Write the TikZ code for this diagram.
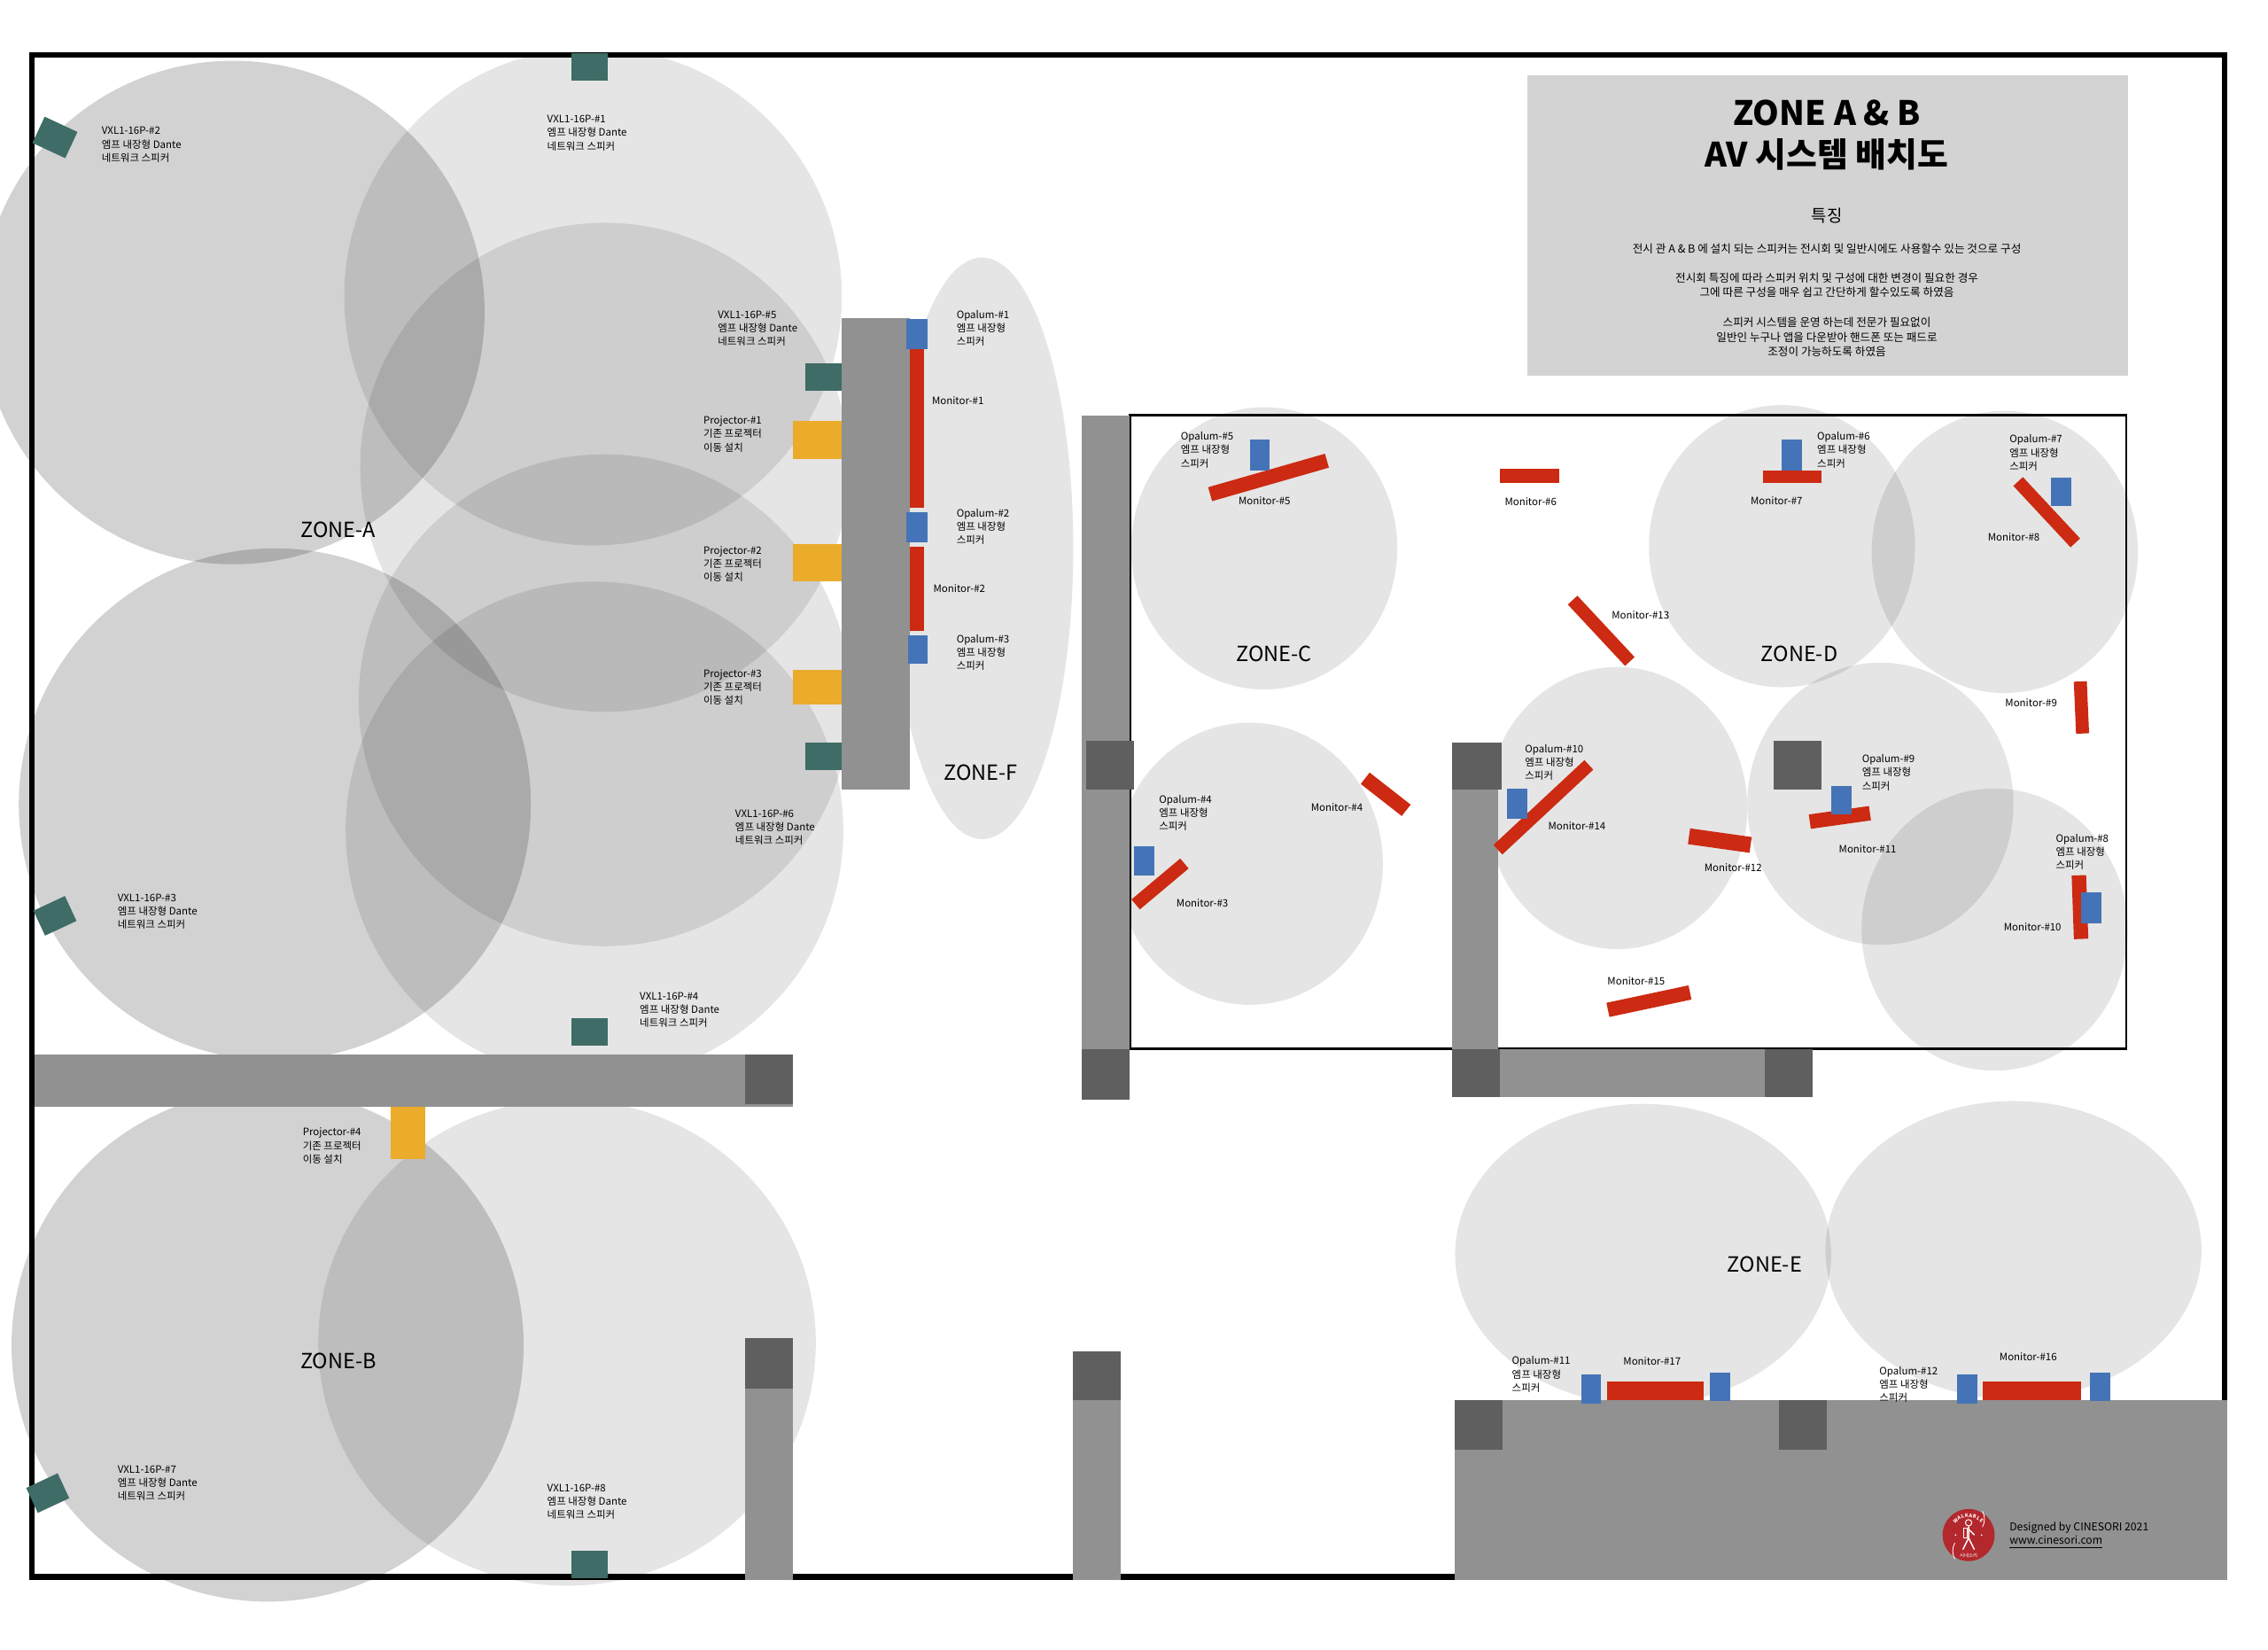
\documentclass[tikz,border=0pt]{standalone}
\usepackage{fontspec}
\setmainfont{Noto Sans CJK KR}
\usetikzlibrary{positioning}

\definecolor{wallgray}{HTML}{919191}
\definecolor{walldark}{HTML}{5F5F5F}
\definecolor{dantegreen}{HTML}{3F6C66}
\definecolor{projyellow}{HTML}{EBAB2B}
\definecolor{opalblue}{HTML}{4474B7}
\definecolor{monred}{HTML}{CC2A12}
\definecolor{logored}{HTML}{B3282D}
\definecolor{titlegray}{HTML}{D3D3D3}

\begin{document}
\begin{tikzpicture}[
    x=0.2mm, y=-0.2mm,
    sz/.style 2 args={minimum width=#1*0.2mm, minimum height=#2*0.2mm},
    box/.style={inner sep=0pt, outer sep=0pt},
    danteamp/.style={box, fill=dantegreen},
    projector/.style={box, fill=projyellow},
    opalum/.style={box, fill=opalblue, sz={14}{20}},
    monitor/.style={box, fill=monred},
    lightzone/.style={fill=black, opacity=0.1},
    darkzone/.style={fill=black, opacity=0.175},
    wall/.style={fill=wallgray},
    pillar/.style={fill=walldark},
    lbl/.style={anchor=west, inner sep=0pt, align=left, font=\fontsize{4}{5.3}\selectfont},
    zonelbl/.style={inner sep=0pt, font=\fontsize{8.2}{10}\selectfont},
    bodylbl/.style={inner sep=0pt, align=center, font=\fontsize{4.4}{5.7}\selectfont}
    ]
    \useasboundingbox (0,0) rectangle (1568,1140);

    %Room line
    \draw[line width=0.35mm] (781,287) rectangle (1470,725);

    %Zones
    \fill[darkzone] (161,216) circle (174);
    \fill[lightzone] (410,205) circle (172);
    \fill[lightzone] (418,323) circle (169);
    \fill[lightzone] (418,484) circle (170);
    \fill[lightzone] (411,574) circle (172);
    \fill[darkzone] (190,556) circle (177);
    \fill[darkzone] (185,930) circle (177);
    \fill[lightzone] (392,928) ellipse [x radius=172, y radius=168];
    \fill[lightzone] (679,379) ellipse [x radius=63, y radius=201];
    \fill[lightzone] (874,379) ellipse [x radius=92, y radius=97.5];
    \fill[lightzone] (864,597) ellipse [x radius=92, y radius=97.5];
    \fill[lightzone] (1232,377.5) ellipse [x radius=92, y radius=97.5];
    \fill[lightzone] (1386,381.5) ellipse [x radius=92, y radius=97.5];
    \fill[lightzone] (1118,558.5) ellipse [x radius=90, y radius=97.5];
    \fill[lightzone] (1300,555.5) ellipse [x radius=92, y radius=97.5];
    \fill[lightzone] (1379,642.5) ellipse [x radius=92, y radius=97.5];
    \fill[lightzone] (1136,867) ellipse [x radius=130, y radius=104];
    \fill[lightzone] (1392,864) ellipse [x radius=130, y radius=103];

    %Frame
    \fill[white] (300,0) rectangle (700,37);
    \draw[line width=0.8mm] (22,38) rectangle (1538,1090);

    %Walls
    \fill[wall] (582,220) rectangle (629,546);
    \fill[wall] (748,287) rectangle (781,725);
    \fill[pillar] (751,512) rectangle (784,546);
    \fill[pillar] (748,725) rectangle (781,760);
    \fill[wall] (1004,546) rectangle (1036,725);
    \fill[pillar] (1004,513) rectangle (1038,546);
    \fill[pillar] (1004,725) rectangle (1037,758);
    \fill[wall] (1037,725) rectangle (1220,758);
    \fill[pillar] (1220,725) rectangle (1253,758);
    \fill[pillar] (1226,512) rectangle (1259,546);
    \fill[wall] (24,729) rectangle (548,765);
    \fill[pillar] (515,729) rectangle (548,763);
    \fill[wall] (515,960) rectangle (548,1092);
    \fill[pillar] (515,925) rectangle (548,960);
    \fill[wall] (742,968) rectangle (775,1092);
    \fill[pillar] (742,934) rectangle (775,968);
    \fill[wall] (1006,968) rectangle (1540,1092);
    \fill[pillar] (1006,968) rectangle (1039,1002);
    \fill[pillar] (1230,968) rectangle (1263,1002);

    %Title box
    \node[box, fill=titlegray, sz={415}{208}] (title) at (1263.5,156) {};
    \node[inner sep=0pt, font=\fontsize{13.2}{16}\selectfont\bfseries] (title1) at (1263,78) {ZONE A \& B};
    \node[inner sep=0pt, font=\fontsize{13.2}{16}\selectfont\bfseries] (title2) at (1263,107) {AV 시스템 배치도};
    \node[inner sep=0pt, font=\fontsize{6.6}{8}\selectfont] (feature) at (1263,149) {특징};
    \node[bodylbl] (body1) at (1263,172) {전시 관 A \& B 에 설치 되는 스피커는 전시회 및 일반시에도 사용할수 있는 것으로 구성};
    \node[bodylbl] (body2) at (1263,197) {전시회 특징에 따라 스피커 위치 및 구성에 대한 변경이 필요한 경우\\그에 따른 구성을 매우 쉽고 간단하게 할수있도록 하였음};
    \node[bodylbl] (body3) at (1263,233) {스피커 시스템을 운영 하는데 전문가 필요없이\\일반인 누구나 앱을 다운받아 핸드폰 또는 패드로\\조정이 가능하도록 하였음};

    %Dante speakers
    \node[danteamp, sz={25}{19}] (vxl1) at (407.5,46.5) {};
    \node[danteamp, sz={25}{20}, rotate=-25] (vxl2) at (38,95) {};
    \node[danteamp, sz={24}{19}, rotate=25] (vxl3) at (38,633) {};
    \node[danteamp, sz={25}{19}] (vxl4) at (407.5,713.5) {};
    \node[danteamp, sz={25}{19}] (vxl5) at (569.5,260.5) {};
    \node[danteamp, sz={25}{19}] (vxl6) at (569.5,522.5) {};
    \node[danteamp, sz={24}{19}, rotate=25] (vxl7) at (33,1032) {};
    \node[danteamp, sz={25}{19}] (vxl8) at (407.5,1081.5) {};

    %Projectors
    \node[projector, sz={34}{26}] (proj1) at (565,304) {};
    \node[projector, sz={34}{26}] (proj2) at (565,389) {};
    \node[projector, sz={34}{24}] (proj3) at (565,475) {};
    \node[projector, sz={24}{36}] (proj4) at (282,783) {};

    %Monitors
    \node[opalum] (opal7) at (1425,340) {};
    \node[monitor, sz={10}{110}] (mon1) at (634,296) {};
    \node[monitor, sz={10}{58}] (mon2) at (634,407) {};
    \node[monitor, sz={44}{9}, rotate=40] (mon3) at (802,611) {};
    \node[monitor, sz={36}{10}, rotate=-38] (mon4) at (958,549) {};
    \node[monitor, sz={84}{10}, rotate=16] (mon5) at (877,330) {};
    \node[monitor, sz={41}{10}] (mon6) at (1057.5,329) {};
    \node[monitor, sz={40}{9}] (mon7) at (1239,329.5) {};
    \node[monitor, sz={58}{9}, rotate=-47] (mon8) at (1415,354) {};
    \node[monitor, sz={9}{36}, rotate=2.5] (mon9) at (1439,489) {};
    \node[monitor, sz={10}{44}, rotate=2] (mon10) at (1438,627) {};
    \node[monitor, sz={42}{10}, rotate=8] (mon11) at (1272,565) {};
    \node[monitor, sz={43}{11}, rotate=-8] (mon12) at (1189,581) {};
    \node[monitor, sz={58}{9}, rotate=-47] (mon13) at (1107,436) {};
    \node[monitor, sz={86}{9}, rotate=43] (mon14) at (1067,558) {};
    \node[monitor, sz={58}{10}, rotate=12] (mon15) at (1140,692) {};
    \node[monitor, sz={68}{13}] (mon16) at (1405,961.5) {};
    \node[monitor, sz={67}{13}] (mon17) at (1144.5,961.5) {};

    %Opalum speakers
    \node[opalum, sz={15}{21}] (opal1) at (634,231) {};
    \node[opalum, sz={15}{21}] (opal2) at (634,364.5) {};
    \node[opalum] (opal3) at (634.5,449) {};
    \node[opalum] (opal4) at (791,595) {};
    \node[opalum, sz={14}{21}] (opal5) at (871,314.5) {};
    \node[opalum, sz={14}{21}] (opal6) at (1239,314.5) {};
    \node[opalum, sz={14}{21}] (opal8) at (1446,627.5) {};
    \node[opalum] (opal9) at (1273,553) {};
    \node[opalum, sz={14}{21}] (opal10) at (1049,555.5) {};
    \node[opalum] (opal11) at (1100,960) {};
    \node[opalum] (opal11b) at (1189,958.5) {};
    \node[opalum] (opal12) at (1360,960) {};
    \node[opalum] (opal12b) at (1452,958.5) {};

    %Zone names
    \node[zonelbl] (zonea) at (234,366) {ZONE-A};
    \node[zonelbl] (zoneb) at (234,941) {ZONE-B};
    \node[zonelbl] (zonec) at (881,452) {ZONE-C};
    \node[zonelbl] (zoned) at (1244,452) {ZONE-D};
    \node[zonelbl] (zonee) at (1220,874) {ZONE-E};
    \node[zonelbl] (zonef) at (678,534) {ZONE-F};

    %Labels
    \node[lbl] (vxl1txt) at (378,92) {VXL1-16P-\#1\\엠프 내장형 Dante\\네트워크 스피커};
    \node[lbl] (vxl2txt) at (70,100) {VXL1-16P-\#2\\엠프 내장형 Dante\\네트워크 스피커};
    \node[lbl] (vxl3txt) at (81,630) {VXL1-16P-\#3\\엠프 내장형 Dante\\네트워크 스피커};
    \node[lbl] (vxl4txt) at (442,698) {VXL1-16P-\#4\\엠프 내장형 Dante\\네트워크 스피커};
    \node[lbl] (vxl5txt) at (496,227) {VXL1-16P-\#5\\엠프 내장형 Dante\\네트워크 스피커};
    \node[lbl] (vxl6txt) at (508,572) {VXL1-16P-\#6\\엠프 내장형 Dante\\네트워크 스피커};
    \node[lbl] (vxl7txt) at (81,1025) {VXL1-16P-\#7\\엠프 내장형 Dante\\네트워크 스피커};
    \node[lbl] (vxl8txt) at (378,1038) {VXL1-16P-\#8\\엠프 내장형 Dante\\네트워크 스피커};
    \node[lbl] (proj1txt) at (486,300) {Projector-\#1\\기존 프로젝터\\이동 설치};
    \node[lbl] (proj2txt) at (486,390) {Projector-\#2\\기존 프로젝터\\이동 설치};
    \node[lbl] (proj3txt) at (486,475) {Projector-\#3\\기존 프로젝터\\이동 설치};
    \node[lbl] (proj4txt) at (209,792) {Projector-\#4\\기존 프로젝터\\이동 설치};
    \node[lbl] (opal1txt) at (661,227) {Opalum-\#1\\엠프 내장형\\스피커};
    \node[lbl] (opal2txt) at (661,364) {Opalum-\#2\\엠프 내장형\\스피커};
    \node[lbl] (opal3txt) at (661,451) {Opalum-\#3\\엠프 내장형\\스피커};
    \node[lbl] (opal4txt) at (801,562) {Opalum-\#4\\엠프 내장형\\스피커};
    \node[lbl] (opal5txt) at (816,311) {Opalum-\#5\\엠프 내장형\\스피커};
    \node[lbl] (opal6txt) at (1256,311) {Opalum-\#6\\엠프 내장형\\스피커};
    \node[lbl] (opal7txt) at (1389,313) {Opalum-\#7\\엠프 내장형\\스피커};
    \node[lbl] (opal8txt) at (1421,589) {Opalum-\#8\\엠프 내장형\\스피커};
    \node[lbl] (opal9txt) at (1287,534) {Opalum-\#9\\엠프 내장형\\스피커};
    \node[lbl] (opal10txt) at (1054,527) {Opalum-\#10\\엠프 내장형\\스피커};
    \node[lbl] (opal11txt) at (1045,950) {Opalum-\#11\\엠프 내장형\\스피커};
    \node[lbl] (opal12txt) at (1299,957) {Opalum-\#12\\엠프 내장형\\스피커};
    \node[lbl] (mon1txt) at (644,277) {Monitor-\#1};
    \node[lbl] (mon2txt) at (645,407) {Monitor-\#2};
    \node[lbl] (mon3txt) at (813,624) {Monitor-\#3};
    \node[lbl] (mon4txt) at (906,558) {Monitor-\#4};
    \node[lbl] (mon5txt) at (856,346) {Monitor-\#5};
    \node[lbl] (mon6txt) at (1040,347) {Monitor-\#6};
    \node[lbl] (mon7txt) at (1210,346) {Monitor-\#7};
    \node[lbl] (mon8txt) at (1374,371) {Monitor-\#8};
    \node[lbl] (mon9txt) at (1386,486) {Monitor-\#9};
    \node[lbl] (mon10txt) at (1385,641) {Monitor-\#10};
    \node[lbl] (mon11txt) at (1271,587) {Monitor-\#11};
    \node[lbl] (mon12txt) at (1178,600) {Monitor-\#12};
    \node[lbl] (mon13txt) at (1114,425) {Monitor-\#13};
    \node[lbl] (mon14txt) at (1070,571) {Monitor-\#14};
    \node[lbl] (mon15txt) at (1111,678) {Monitor-\#15};
    \node[lbl] (mon16txt) at (1382,938) {Monitor-\#16};
    \node[lbl] (mon17txt) at (1122,941) {Monitor-\#17};

    %Logo
    \node[circle, fill=logored, inner sep=0pt, sz={36}{36}] (logo) at (1361,1061) {};
    \draw[white, line width=0.1mm] ([shift={(150:11)}]logo.center) arc [start angle=150, end angle=210, radius=11*0.2mm];
    \draw[white, line width=0.1mm] ([shift={(-30:11)}]logo.center) arc [start angle=-30, end angle=30, radius=11*0.2mm];
    \fill[white] (1352,1061) circle (0.6);
    \fill[white] (1370,1061) circle (0.6);
    \draw[white, line width=0.12mm] (1361,1052.5) circle (2.2);
    \draw[white, line width=0.12mm] (1357.5,1056) rectangle (1360,1063);
    \draw[white, line width=0.18mm] (1361,1055) -- (1361,1063) -- (1357,1071);
    \draw[white, line width=0.18mm] (1361,1063) -- (1365,1071);
    \draw[white, line width=0.18mm] (1361,1057) -- (1365,1061);
    \foreach \c/\a in {W/-42,A/-30,L/-18,K/-6,A/6,B/18,L/30,E/42}
        \node[white, inner sep=0pt, rotate=-\a, font=\fontsize{1.9}{2}\selectfont\bfseries] at ({1361+13.5*sin(\a)},{1061-13.5*cos(\a)}) {\c};
    \node[white, inner sep=0pt, font=\fontsize{1.9}{2}\selectfont] (logotxt) at (1361,1075) {시네소리};
    \node[lbl, font=\fontsize{4.25}{5.6}\selectfont] (credit) at (1389,1056) {Designed by CINESORI 2021};
    \node[lbl, font=\fontsize{4.25}{5.6}\selectfont] (site) at (1389,1066) {\underline{www.cinesori.com}};
\end{tikzpicture}
\end{document}
